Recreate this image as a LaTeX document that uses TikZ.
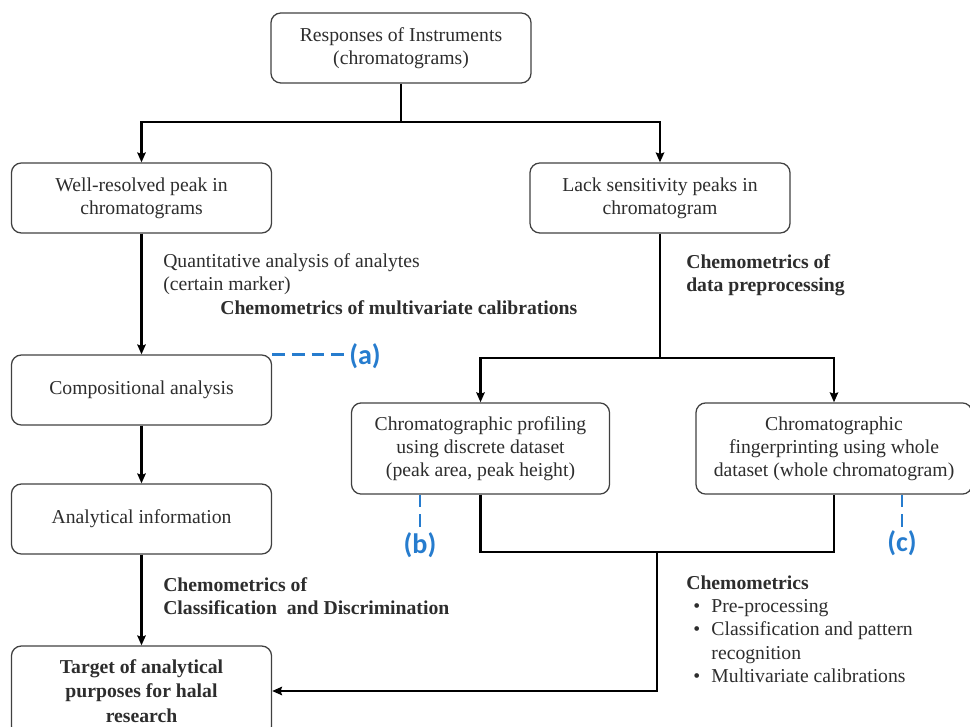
\documentclass[tikz,border=0pt]{standalone}
\usepackage{fontspec}
\setmainfont{Liberation Serif}
\newfontfamily\tagfont{Carlito}
\usetikzlibrary{arrows.meta, positioning}
\definecolor{tagblue}{RGB}{38,124,206}
\definecolor{inkgray}{RGB}{45,45,45}
\tikzset{box/.style={draw=black!75, line width=0.9pt, rounded corners=7pt, align=center, text=inkgray,
        font=\fontsize{14}{16.5}\selectfont, minimum width=6.5cm, minimum height=1.75cm},
    wide/.style={minimum height=2.28cm},
    link/.style={line width=1.6pt, -{Stealth[length=7pt, width=6pt, inset=1pt]}},
    joint/.style={line width=1.6pt},
    note/.style={anchor=west, align=left, inner sep=0pt, text=inkgray, font=\fontsize{14}{16.5}\selectfont},
    tag/.style={text=tagblue, inner sep=0pt, font=\tagfont\bfseries\fontsize{20}{22}\selectfont},
    tagline/.style={draw=tagblue, line width=1.8pt, dash pattern=on 9pt off 5pt}}

\begin{document}
\begin{tikzpicture}[x=0.025cm, y=-0.025cm]
\useasboundingbox (0,0) rectangle (970,727);
\node[box] (resp) at (401,48) {Responses of Instruments\\(chromatograms)};
\node[box] (well) at (141.5,198) {Well-resolved peak in\\chromatograms};
\node[box] (lack) at (660,198) {Lack sensitivity peaks in\\chromatogram};
\node[box] (comp) at (141.5,390) {Compositional analysis};
\node[box] (info) at (141.5,519) {Analytical information};
\node[box, minimum height=2.25cm, font=\fontsize{14}{17.5}\selectfont\bfseries] (target) at (141.5,691) {Target of analytical\\purposes for halal\\research};
\node[box, wide, minimum width=6.45cm] (prof) at (480.5,448.5) {Chromatographic profiling\\using discrete dataset\\(peak area, peak height)};
\node[box, wide, minimum width=6.9cm] (fing) at (834,448.5) {Chromatographic\\fingerprinting using whole\\dataset (whole chromatogram)};
\coordinate (top) at (401,122);
\coordinate (split) at (660,358);
\coordinate (merge) at (657,552);
\draw[joint] (resp.south) -- (top);
\draw[link] (top) -| (well.north);
\draw[link] (top) -| (lack.north);
\draw[link] (well) -- (comp);
\draw[link] (comp) -- (info);
\draw[link] (info) -- (target);
\draw[joint] (lack.south) -- (split);
\draw[link] (split) -| (prof.north);
\draw[link] (split) -| (fing.north);
\draw[joint] (prof.south) |- (merge) -| (fing.south);
\draw[link] (merge) |- (target.east);
\node[note] (quant) at (163,274) {Quantitative analysis of analytes\\(certain marker)};
\node[note, font=\fontsize{14}{16.5}\selectfont\bfseries] (calib) at (220,308) {Chemometrics of multivariate calibrations};
\node[note, font=\fontsize{14}{16.5}\selectfont\bfseries] (prep) at (686,275) {Chemometrics of\\data preprocessing};
\node[note, font=\fontsize{14}{16.5}\selectfont\bfseries] (discr) at (163,596) {Chemometrics of\\Classification\ \ and Discrimination};
\node[note, anchor=north west] (tools) at (686,573) {\begin{tabular}{@{}l@{\hspace{8pt}}l@{}}
\multicolumn{2}{@{}l}{\textbf{Chemometrics}}\\
\hspace{5pt}\textbullet & Pre-processing\\
\hspace{5pt}\textbullet & Classification and pattern\\
 & recognition\\
\hspace{5pt}\textbullet & Multivariate calibrations
\end{tabular}};
\node[tag] (taga) at (365,356) {(a)};
\node[tag] (tagb) at (420,545) {(b)};
\node[tag] (tagc) at (902,543) {(c)};
\draw[tagline] (comp.north east) -- (comp.north east -| taga.west);
\draw[tagline] (prof.south -| tagb) -- (tagb.north);
\draw[tagline] (fing.south -| tagc) -- (tagc.north);
\end{tikzpicture}
\end{document}
